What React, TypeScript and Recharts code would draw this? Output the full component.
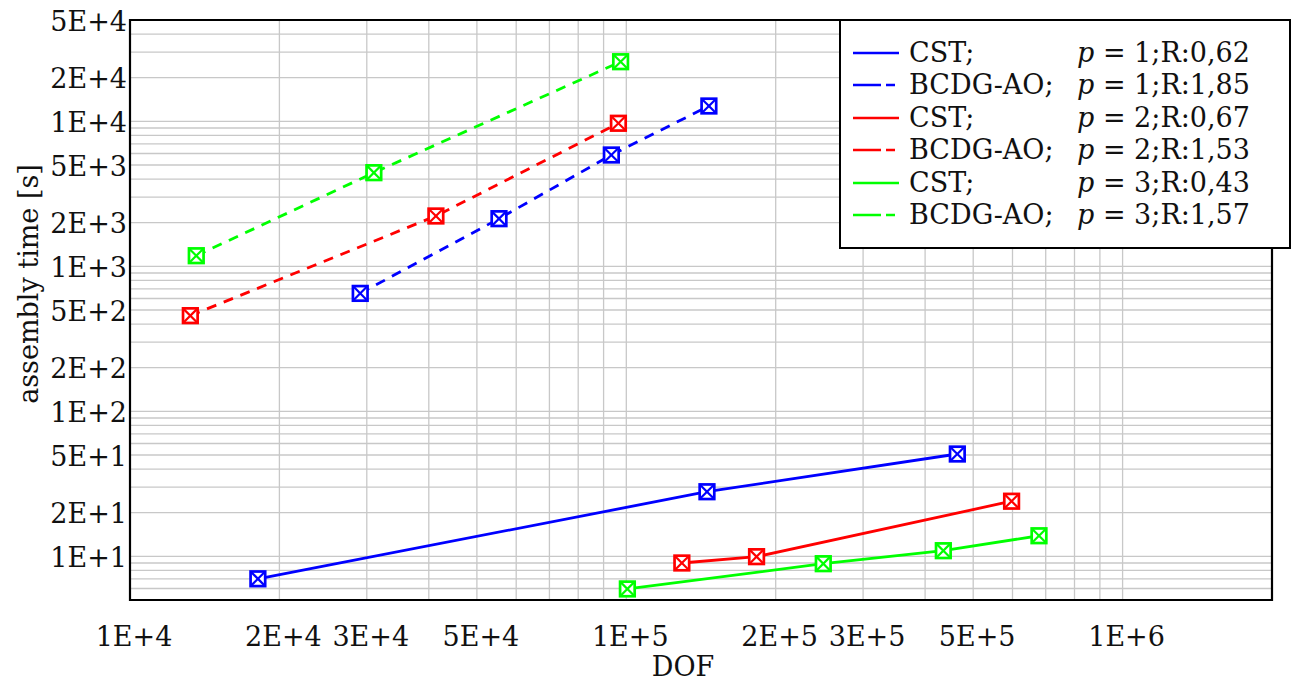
import React from 'react';
import { ComposedChart, Line, XAxis, YAxis, CartesianGrid, ReferenceArea } from 'recharts';

const cstP1 = [
  { x: 18100, y: 7.0 },
  { x: 145400, y: 27.9 },
  { x: 464500, y: 50.8 },
];
const cstP2 = [
  { x: 129400, y: 9.0 },
  { x: 183000, y: 9.95 },
  { x: 597500, y: 24.0 },
];
const cstP3 = [
  { x: 100500, y: 5.96 },
  { x: 249400, y: 8.9 },
  { x: 435300, y: 10.94 },
  { x: 678500, y: 13.87 },
];
const bcdgP1 = [
  { x: 29100, y: 651 },
  { x: 55400, y: 2132 },
  { x: 93300, y: 5861 },
  { x: 146700, y: 12760 },
];
const bcdgP2 = [
  { x: 13230, y: 457 },
  { x: 41340, y: 2225 },
  { x: 96400, y: 9700 },
];
const bcdgP3 = [
  { x: 13600, y: 1184 },
  { x: 31000, y: 4426 },
  { x: 97400, y: 25780 },
];

const xTicks = [1e4, 2e4, 3e4, 5e4, 1e5, 2e5, 3e5, 5e5, 1e6];
const yTicks = [10, 20, 50, 100, 200, 500, 1000, 2000, 5000, 1e4, 2e4, 5e4];
const xGrid = [
  1e4, 2e4, 3e4, 4e4, 5e4, 6e4, 7e4, 8e4, 9e4,
  1e5, 2e5, 3e5, 4e5, 5e5, 6e5, 7e5, 8e5, 9e5,
  1e6, 2e6,
];
const yGrid = [
  5, 6, 7, 8, 9,
  10, 20, 30, 40, 50, 60, 70, 80, 90,
  100, 200, 300, 400, 500, 600, 700, 800, 900,
  1000, 2000, 3000, 4000, 5000, 6000, 7000, 8000, 9000,
  1e4, 2e4, 3e4, 4e4, 5e4,
];

const legendItems = [
  { name: 'CST;', p: '1', r: '0,62', color: '#0000ff', dashed: false },
  { name: 'BCDG-AO;', p: '1', r: '1,85', color: '#0000ff', dashed: true },
  { name: 'CST;', p: '2', r: '0,67', color: '#ff0000', dashed: false },
  { name: 'BCDG-AO;', p: '2', r: '1,53', color: '#ff0000', dashed: true },
  { name: 'CST;', p: '3', r: '0,43', color: '#00ff00', dashed: false },
  { name: 'BCDG-AO;', p: '3', r: '1,57', color: '#00ff00', dashed: true },
];

const FONT = '"DejaVu Serif", serif';
const FS = 27;

const fmt = (v: number) => {
  const e = Math.floor(Math.log10(v) + 1e-9);
  const m = Math.round(v / Math.pow(10, e));
  return `${m}E+${e}`;
};

const makeDot = (color: string) => (props: any) => {
  const { cx, cy, index } = props;
  if (cx == null || cy == null) return <g key={index} />;
  const h = 7.3;
  return (
    <g key={index}>
      <rect x={cx - h} y={cy - h} width={2 * h} height={2 * h} fill="#ffffff" stroke={color} strokeWidth={2.7} />
      <line x1={cx - h} y1={cy - h} x2={cx + h} y2={cy + h} stroke={color} strokeWidth={2.2} />
      <line x1={cx - h} y1={cy + h} x2={cx + h} y2={cy - h} stroke={color} strokeWidth={2.2} />
    </g>
  );
};

const XTick = (props: any) => {
  const { x, y, payload } = props;
  return (
    <text x={x + 4} y={y + 36} textAnchor="middle" dominantBaseline="central" fontFamily={FONT} fontSize={FS} fill="#111">
      {fmt(payload.value)}
    </text>
  );
};

const YTick = (props: any) => {
  const { x, y, payload } = props;
  return (
    <text x={x - 3} y={y + 1} textAnchor="end" dominantBaseline="central" fontFamily={FONT} fontSize={FS} fill="#111">
      {fmt(payload.value)}
    </text>
  );
};

const LegendBox = () => (
  <div
    style={{
      position: 'absolute',
      left: 839,
      top: 19,
      width: 452,
      height: 230,
      border: '2px solid #000',
      background: '#fff',
      boxSizing: 'border-box',
      fontFamily: FONT,
      fontSize: FS,
      color: '#111',
    }}
  >
    {legendItems.map((it, i) => {
      const cy = 32 + i * 32.4;
      return (
        <div key={i} style={{ position: 'absolute', left: 0, top: cy - 16, height: 32, width: '100%' }}>
          <svg width={60} height={32} style={{ position: 'absolute', left: 10, top: 0 }}>
            <line
              x1={2}
              y1={16}
              x2={48}
              y2={16}
              stroke={it.color}
              strokeWidth={2.6}
              strokeDasharray={it.dashed ? '28 5 9 60' : undefined}
            />
          </svg>
          <span style={{ position: 'absolute', left: 68, top: 0, lineHeight: '32px', whiteSpace: 'nowrap' }}>{it.name}</span>
          <span style={{ position: 'absolute', left: 236, top: 0, lineHeight: '32px', whiteSpace: 'nowrap' }}>
            <i>p</i> = {it.p};R:{it.r}
          </span>
        </div>
      );
    })}
  </div>
);

const series = [
  { data: cstP1, color: '#0000ff', dashed: false, key: 'c1' },
  { data: cstP2, color: '#ff0000', dashed: false, key: 'c2' },
  { data: cstP3, color: '#00ff00', dashed: false, key: 'c3' },
  { data: bcdgP1, color: '#0000ff', dashed: true, key: 'b1' },
  { data: bcdgP2, color: '#ff0000', dashed: true, key: 'b2' },
  { data: bcdgP3, color: '#00ff00', dashed: true, key: 'b3' },
];

export default function App() {
  return (
    <div style={{ position: 'fixed', left: 0, top: 0, width: 1293, height: 684, background: '#fff' }}>
      <ComposedChart width={1293} height={684} margin={{ top: 20, right: 21, bottom: 0, left: 0 }}>
        <CartesianGrid
          stroke="#c8c8c8"
          strokeWidth={1.3}
          horizontalValues={yGrid}
          verticalValues={xGrid}
        />
        <XAxis
          dataKey="x"
          type="number"
          scale="log"
          domain={[1e4, 2e6]}
          allowDataOverflow
          ticks={xTicks}
          tick={<XTick />}
          tickLine={false}
          axisLine={false}
          tickSize={0}
          tickMargin={0}
          height={84}
          interval={0}
          label={{
            content: () => (
              <text x={683} y={666} textAnchor="middle" dominantBaseline="central" fontFamily={FONT} fontSize={FS} fill="#111">
                DOF
              </text>
            ),
          }}
        />
        <YAxis
          dataKey="y"
          type="number"
          scale="log"
          domain={[5, 5e4]}
          allowDataOverflow
          ticks={yTicks}
          tick={<YTick />}
          tickLine={false}
          axisLine={false}
          tickSize={0}
          tickMargin={0}
          width={130}
          interval={0}
          label={{
            content: () => (
              <text
                x={28}
                y={284}
                transform="rotate(-90 28 284)"
                textAnchor="middle"
                dominantBaseline="central"
                fontFamily={FONT}
                fontSize={FS}
                fill="#111"
              >
                assembly time [s]
              </text>
            ),
          }}
        />
        <ReferenceArea x1={1e4} x2={2e6} y1={5} y2={5e4} fill="none" stroke="#000" strokeWidth={2.2} ifOverflow="visible" />
        {series.map((s) => (
          <Line
            key={s.key}
            data={s.data}
            dataKey="y"
            type="linear"
            stroke={s.color}
            strokeWidth={2.8}
            strokeDasharray={s.dashed ? '10 8' : undefined}
            dot={makeDot(s.color)}
            activeDot={false}
            isAnimationActive={false}
            legendType="none"
          />
        ))}
      </ComposedChart>
      <LegendBox />
    </div>
  );
}
